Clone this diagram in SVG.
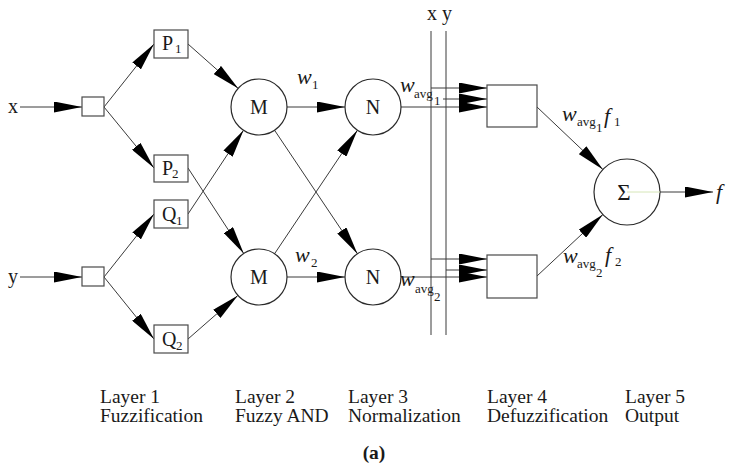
<svg xmlns="http://www.w3.org/2000/svg" width="735" height="468" viewBox="0 0 735 468">
<style>
.ln{stroke:#3a3a3a;stroke-width:1;fill:none}
.bx{fill:#fff;stroke:#4a4a4a;stroke-width:1.2}
.cr{fill:#fff;stroke:#2a2a2a;stroke-width:1.2}
.t{font-family:"Liberation Serif","Times New Roman",serif;fill:#1a1a1a}
.big{font-size:20px}
.w{font-size:22px;font-style:italic}
.sub{font-size:13px}
.lab{font-size:19.5px}
</style>
<defs>
<marker id="ah" markerUnits="userSpaceOnUse" markerWidth="28" markerHeight="11" refX="28" refY="5.5" orient="auto">
<path d="M0,0 L28,5.5 L0,11 z" fill="#000"/>
</marker>
</defs>

<g id="connectors">
<line class="ln" x1="20" y1="107" x2="82" y2="107" marker-end="url(#ah)"/>
<line class="ln" x1="20" y1="277" x2="82" y2="277" marker-end="url(#ah)"/>
<line class="ln" x1="104" y1="107" x2="154" y2="44" marker-end="url(#ah)"/>
<line class="ln" x1="104" y1="107" x2="154" y2="168" marker-end="url(#ah)"/>
<line class="ln" x1="104" y1="277" x2="154" y2="214" marker-end="url(#ah)"/>
<line class="ln" x1="104" y1="277" x2="154" y2="339" marker-end="url(#ah)"/>
<line class="ln" x1="188" y1="44" x2="238.3" y2="88.6" marker-end="url(#ah)"/>
<line class="ln" x1="188" y1="214" x2="243.5" y2="130.3" marker-end="url(#ah)"/>
<line class="ln" x1="188" y1="168" x2="243.7" y2="253.5" marker-end="url(#ah)"/>
<line class="ln" x1="188" y1="339" x2="237.9" y2="295.4" marker-end="url(#ah)"/>
<line class="ln" x1="287" y1="107" x2="345" y2="107" marker-end="url(#ah)"/>
<line class="ln" x1="274.6" y1="130.3" x2="357.4" y2="253.7" marker-end="url(#ah)"/>
<line class="ln" x1="274.6" y1="253.7" x2="357.4" y2="130.3" marker-end="url(#ah)"/>
<line class="ln" x1="287" y1="277" x2="345" y2="277" marker-end="url(#ah)"/>
<line class="ln" x1="431" y1="31" x2="431" y2="335"/>
<line class="ln" x1="446" y1="31" x2="446" y2="335"/>
<line class="ln" x1="401" y1="107" x2="487" y2="107" marker-end="url(#ah)"/>
<line class="ln" x1="431" y1="88" x2="487" y2="88" marker-end="url(#ah)"/>
<line class="ln" x1="443" y1="99" x2="487" y2="99" marker-end="url(#ah)"/>
<line class="ln" x1="401" y1="277" x2="487" y2="277" marker-end="url(#ah)"/>
<line class="ln" x1="431" y1="259" x2="487" y2="259" marker-end="url(#ah)"/>
<line class="ln" x1="446" y1="270" x2="487" y2="270" marker-end="url(#ah)"/>
<line class="ln" x1="537" y1="107" x2="602.9" y2="169.5" marker-end="url(#ah)"/>
<line class="ln" x1="537" y1="276" x2="602.9" y2="214.5" marker-end="url(#ah)"/>
<line class="ln" x1="660" y1="192" x2="713" y2="192" marker-end="url(#ah)"/>
</g>

<g id="in-x"><text class="t big" x="8" y="113">x</text></g>
<g id="in-y"><text class="t big" x="8" y="283">y</text></g>
<g id="box-x"><rect class="bx" x="82" y="97" width="22" height="19"/></g>
<g id="box-y"><rect class="bx" x="82" y="267" width="22" height="19"/></g>

<g id="P1"><rect class="bx" x="154" y="30" width="34" height="28"/><text class="t big" x="162" y="50">P</text><text class="t sub" x="175" y="53">1</text></g>
<g id="P2"><rect class="bx" x="154" y="155" width="34" height="27"/><text class="t big" x="162" y="175">P</text><text class="t sub" x="172" y="178">2</text></g>
<g id="Q1"><rect class="bx" x="154" y="200" width="34" height="28"/><text class="t big" x="162" y="221">Q</text><text class="t sub" x="176" y="225">1</text></g>
<g id="Q2"><rect class="bx" x="154" y="325" width="34" height="28"/><text class="t big" x="162" y="346">Q</text><text class="t sub" x="176" y="350">2</text></g>

<g id="M1"><circle class="cr" cx="259" cy="107" r="28"/><text class="t big" x="259" y="114" text-anchor="middle">M</text></g>
<g id="M2"><circle class="cr" cx="259" cy="277" r="28"/><text class="t big" x="259" y="284" text-anchor="middle">M</text></g>
<g id="N1"><circle class="cr" cx="373" cy="107" r="28"/><text class="t big" x="373" y="114" text-anchor="middle">N</text></g>
<g id="N2"><circle class="cr" cx="373" cy="277" r="28"/><text class="t big" x="373" y="284" text-anchor="middle">N</text></g>

<g id="D1"><rect class="bx" x="487" y="85" width="50" height="42"/></g>
<g id="D2"><rect class="bx" x="487" y="255" width="50" height="43"/></g>

<g id="sum"><circle class="cr" cx="627" cy="192" r="33"/><line x1="627" y1="192" x2="660" y2="192" stroke="#d6e6b8" stroke-width="1"/><text class="t" x="624" y="200" text-anchor="middle" fill="#444" font-size="23">Σ</text></g>
<g id="out-f"><text class="t w" x="716" y="199">f</text></g>

<g id="labels">
<text class="t big" x="427" y="20">x y</text>
<text class="t w" x="297" y="84">w</text><text class="t sub" x="312" y="89">1</text>
<text class="t w" x="295" y="262">w</text><text class="t sub" x="311" y="267">2</text>
<text class="t w" x="400" y="92">w</text><text class="t sub" x="414" y="98">avg</text><text class="t sub" x="434" y="105">1</text>
<text class="t w" x="400" y="286">w</text><text class="t sub" x="415" y="293">avg</text><text class="t sub" x="434" y="301">2</text>
<text class="t w" x="562" y="121">w</text><text class="t sub" x="577" y="126">avg</text><text class="t sub" x="596" y="132">1</text><text class="t w" x="604" y="123">f</text><text class="t sub" x="614" y="126">1</text>
<text class="t w" x="563" y="263">w</text><text class="t sub" x="577" y="268">avg</text><text class="t sub" x="596" y="277">2</text><text class="t w" x="605" y="262">f</text><text class="t sub" x="615" y="266">2</text>
<text class="t lab" x="100" y="403">Layer 1</text><text class="t lab" x="100" y="422">Fuzzification</text>
<text class="t lab" x="235" y="403">Layer 2</text><text class="t lab" x="235" y="422">Fuzzy AND</text>
<text class="t lab" x="348" y="403">Layer 3</text><text class="t lab" x="348" y="422">Normalization</text>
<text class="t lab" x="487" y="403">Layer 4</text><text class="t lab" x="487" y="422">Defuzzification</text>
<text class="t lab" x="625" y="403">Layer 5</text><text class="t lab" x="625" y="422">Output</text>
<text class="t lab" x="374" y="459" text-anchor="middle" font-weight="bold">(a)</text>
</g>
</svg>
